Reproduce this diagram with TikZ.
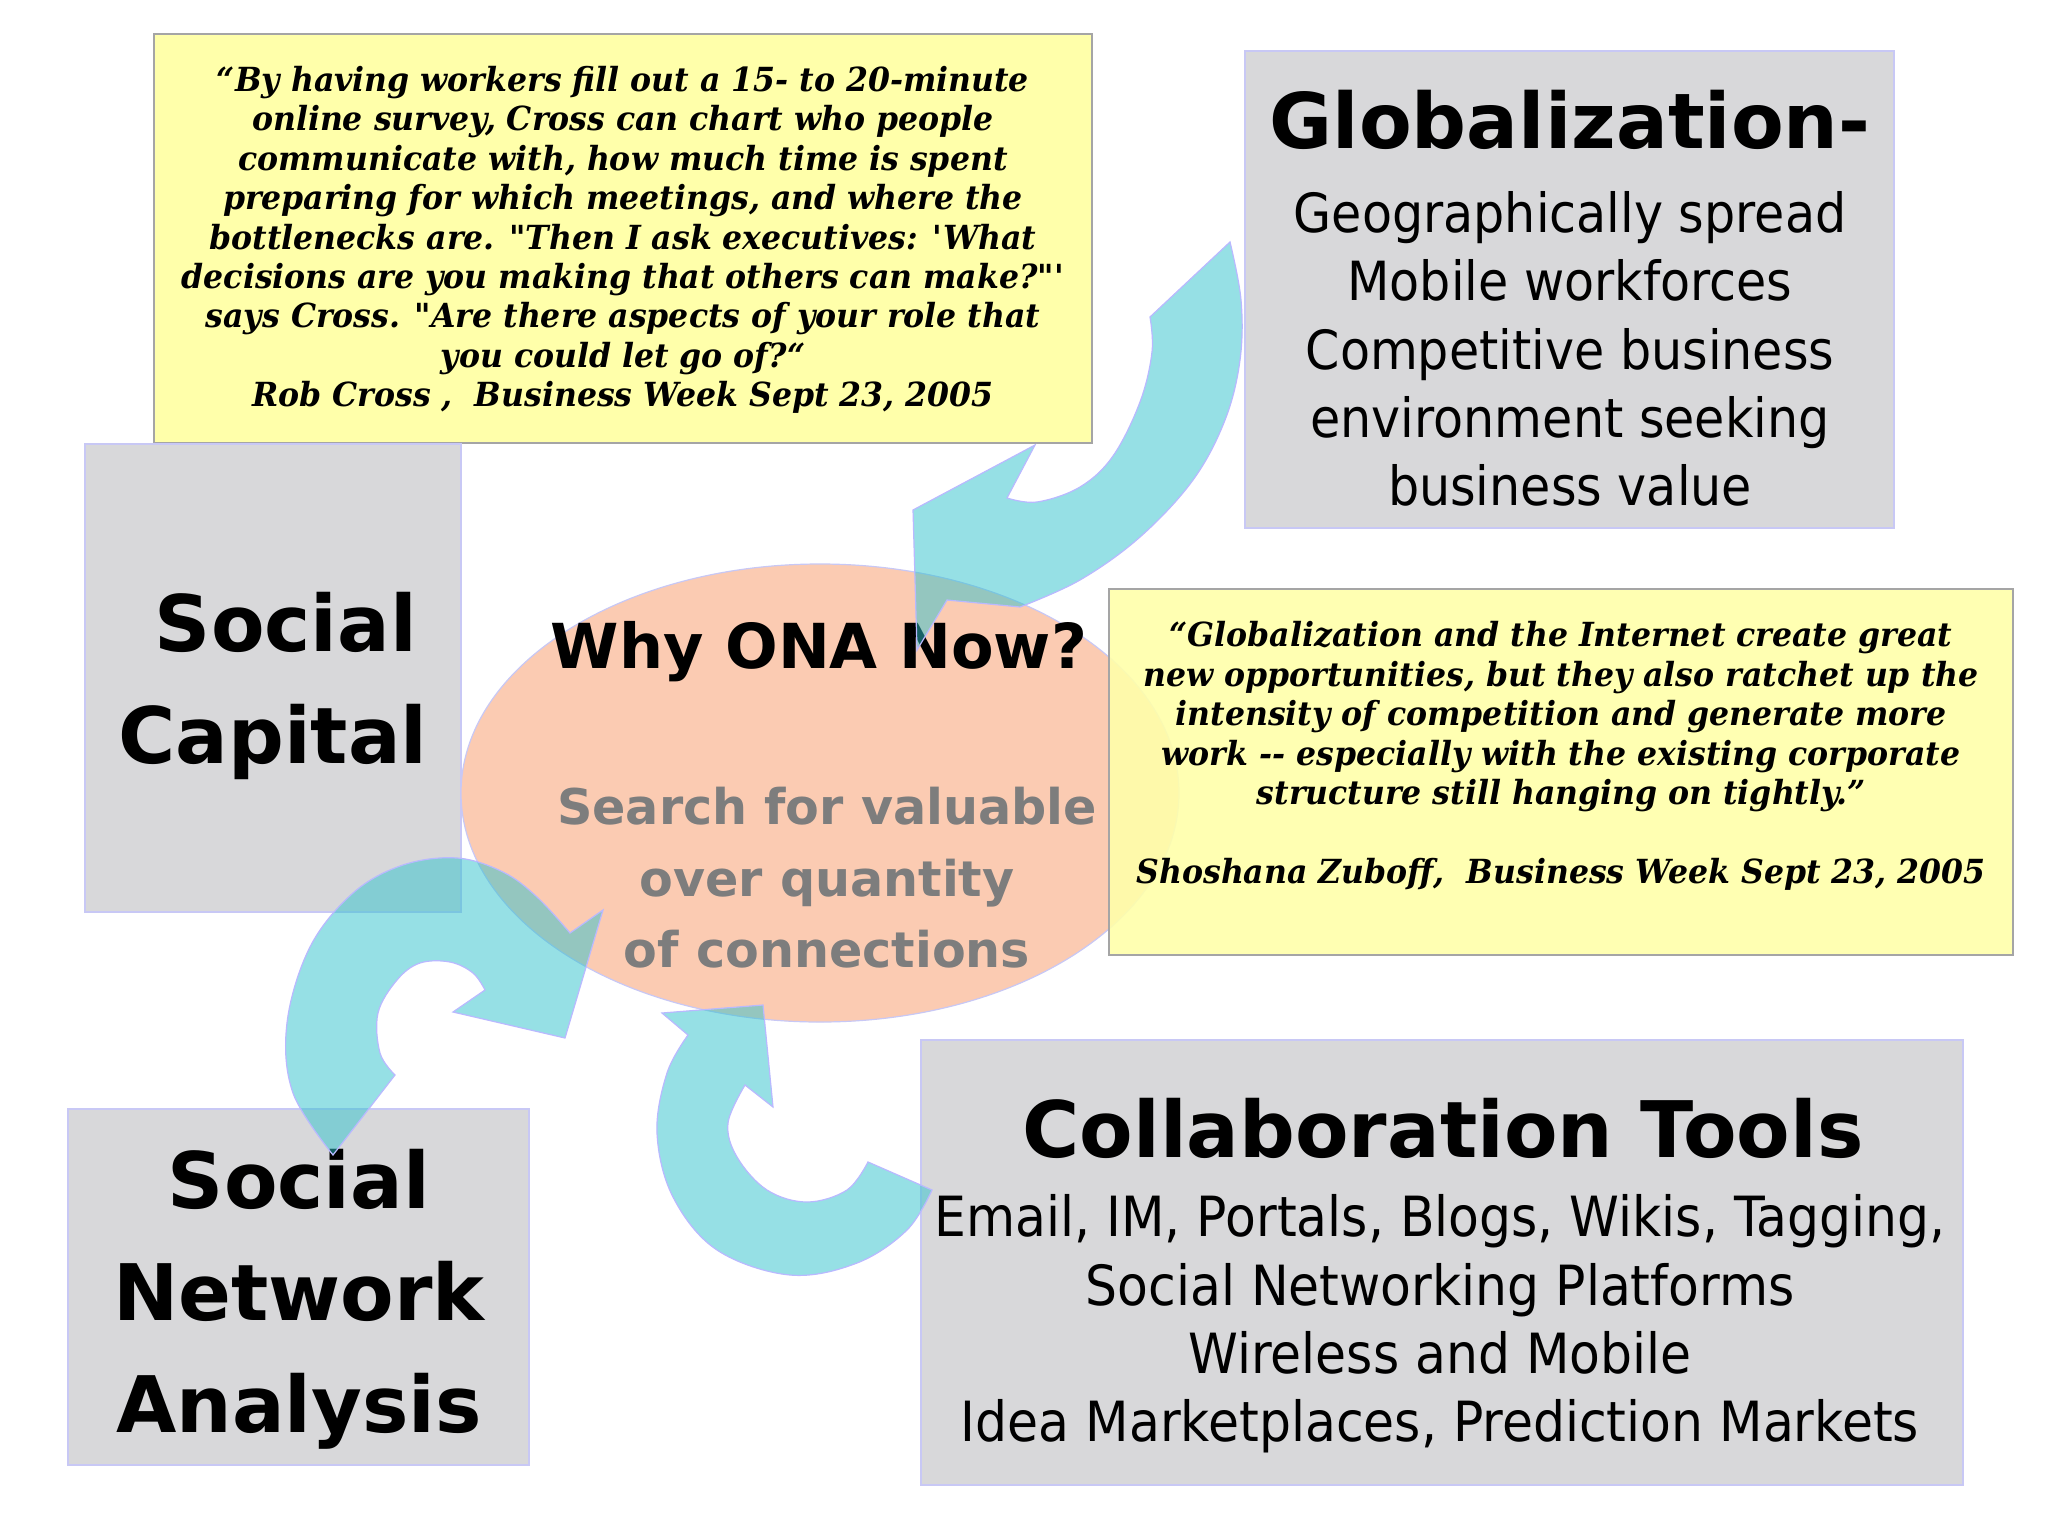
\documentclass[tikz,border=0pt]{standalone}
\usepackage{fontspec}
\usetikzlibrary{shapes.geometric}
\newfontfamily\vsans{DejaVu Sans}
\newfontfamily\tsans{DejaVu Sans}[FakeStretch=0.91]
\newfontfamily\gserif{DejaVu Serif}[FakeStretch=0.95]
\definecolor{boxgray}{RGB}{216,216,218}
\definecolor{boxline}{RGB}{200,200,245}
\definecolor{qyellow}{RGB}{255,255,170}
\definecolor{qline}{RGB}{165,165,165}
\definecolor{peach}{RGB}{251,203,178}
\definecolor{arrowc}{RGB}{47,195,205}
\definecolor{arrowline}{RGB}{185,185,255}
\definecolor{graytext}{RGB}{125,125,125}
\begin{document}
\begin{tikzpicture}[x=0.5pt,y=-0.5pt,
  graybox/.style={draw=boxline, line width=1pt, fill=boxgray, inner sep=0pt, outer sep=0pt},
  quotebox/.style={draw=qline, line width=1pt, fill=qyellow, inner sep=0pt, outer sep=0pt},
  bubble/.style={ellipse, draw=boxline, line width=0.6pt, fill=peach, inner sep=0pt, outer sep=0pt},
  arrowshape/.style={fill=arrowc, fill opacity=0.5, draw=arrowline, line width=0.6pt},
  txt/.style={align=center, inner sep=0pt},
  headfont/.style={font=\vsans\bfseries\fontsize{39}{56}\selectfont},
  bodyfont/.style={font=\tsans\fontsize{27}{34.2}\selectfont},
  quotefont/.style={font=\gserif\bfseries\itshape\fontsize{16.6}{19.7}\selectfont}
]
\useasboundingbox (0,0) rectangle (2048,1536);
\fill[white] (0,0) rectangle (2048,1536);

% boxes
\node[quotebox, minimum width=469pt, minimum height=204.5pt] (q1) at (623,238.5) {};
\node[graybox, minimum width=324.5pt, minimum height=238.5pt] (glob) at (1569.5,289.5) {};
\node[graybox, minimum width=188pt, minimum height=234pt] (sc) at (273,678) {};
\node[graybox, minimum width=230.5pt, minimum height=178pt] (sna) at (298.5,1287) {};
\node[graybox, minimum width=521pt, minimum height=222.5pt] (col) at (1442,1262.5) {};

% central bubble
\node[bubble, minimum width=359pt, minimum height=229pt] (ona) at (820,793) {};
\node[txt, font=\vsans\bfseries\fontsize{31}{36}\selectfont] (why) at (819,652) {Why ONA Now?};
\node[txt, text=graytext, font=\vsans\bfseries\fontsize{24.6}{35.75}\selectfont] (search) at (827,878) {Search for valuable\\over quantity\\of connections};

% second quote box (over the bubble)
\node[quotebox, fill opacity=0.9, minimum width=452pt, minimum height=183pt] (q2) at (1561,772) {};

% texts
\node[txt, quotefont] (q1t) at (623,240) {“By having workers fill out a 15- to 20-minute\\
online survey, Cross can chart who people\\
communicate with, how much time is spent\\
preparing for which meetings, and where the\\
bottlenecks are. "Then I ask executives: \textquotesingle What\\
decisions are you making that others can make?"\textquotesingle\\
says Cross. "Are there aspects of your role that\\
you could let go of?“\\
Rob Cross ,\ \ Business Week Sept 23, 2005};

\node[txt, quotefont] (q2t) at (1561,756) {“Globalization and the Internet create great\\
new opportunities, but they also ratchet up the\\
intensity of competition and generate more\\
work -\kern0pt- especially with the existing corporate\\
structure still hanging on tightly.”\\[19.7pt]
Shoshana Zuboff,\ \ Business Week Sept 23, 2005};

\node[txt, font=\vsans\bfseries\fontsize{38.4}{56}\selectfont] (globh) at (1570,120) {Globalization-};
\node[txt, bodyfont] (globt) at (1570,349) {Geographically spread\\Mobile workforces\\Competitive business\\environment seeking\\business value};

\node[txt, headfont, anchor=base] (sct1) at (286,651) {Social};
\node[txt, headfont, anchor=base] (sct2) at (273,763) {Capital};
\node[txt, headfont] (snat) at (299,1299) {Social\\Network\\Analysis};

\node[txt, headfont] (colh) at (1443,1128) {Collaboration Tools};
\node[txt, font=\tsans\fontsize{27.7}{34.2}\selectfont] (colt) at (1440,1324) {Email, IM, Portals, Blogs, Wikis, Tagging,\\Social Networking Platforms\\Wireless and Mobile\\Idea Marketplaces, Prediction Markets};

% curved arrows
\path[arrowshape] (917,650) -- (913,510) -- (1035,445) -- (1007,498)
  -- plot[smooth, tension=0.6] coordinates {(1007,498) (1037,502) (1080,487) (1113,456) (1140,402) (1152,352) (1150,317)}
  -- (1230,242)
  -- plot[smooth, tension=0.6] coordinates {(1230,242) (1241,300) (1240,360) (1225,420) (1193,480) (1140,537) (1080,580) (1020,607)}
  -- (947,600) -- cycle;

\path[arrowshape] (333,1155) -- (395,1075)
  -- plot[smooth, tension=0.6] coordinates {(395,1075) (380,1053) (378,1013) (397,980) (420,963) (450,962) (473,973) (485,990)}
  -- (453,1012) -- (565,1038) -- (603,910) -- (570,933)
  -- plot[smooth, tension=0.6] coordinates {(570,933) (537,897) (503,872) (457,858) (403,865) (353,893) (310,947) (287,1023) (293,1093) (333,1155)}
  -- cycle;

\path[arrowshape] (932,1190) -- (868,1162)
  -- plot[smooth, tension=0.6] coordinates {(868,1162) (847,1190) (807,1202) (767,1190) (737,1157) (728,1123) (745,1085)}
  -- (773,1107) -- (763,1005) -- (662,1013) -- (688,1035)
  -- plot[smooth, tension=0.6] coordinates {(688,1035) (667,1073) (657,1133) (673,1197) (717,1250) (790,1275) (857,1263) (907,1230) (932,1190)}
  -- cycle;
\end{tikzpicture}
\end{document}
